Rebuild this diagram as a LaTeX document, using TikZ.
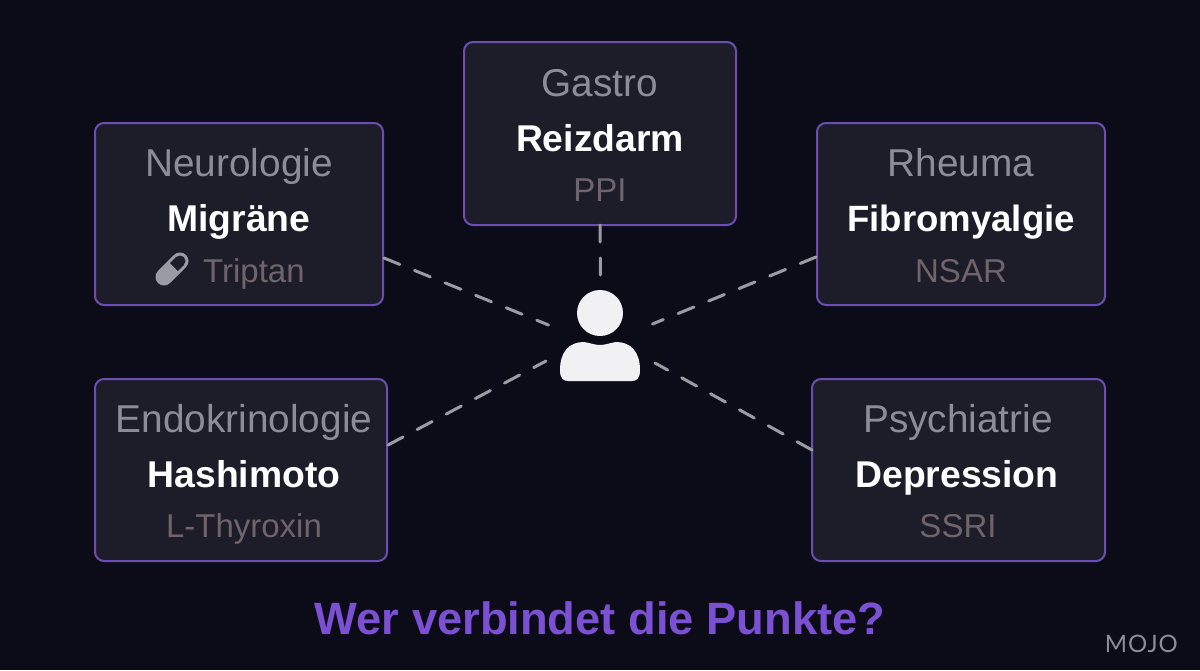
\documentclass[tikz,border=0pt]{standalone}
\usepackage{fontspec}
\setmainfont{Liberation Sans}
\newfontfamily\mojofont[LetterSpace=4]{Lato}
\definecolor{bgc}{HTML}{0B0C18}
\definecolor{boxc}{HTML}{1C1D29}
\definecolor{edgec}{HTML}{6A4FB0}
\definecolor{catc}{HTML}{8C8D97}
\definecolor{medc}{HTML}{70646A}
\definecolor{dashc}{HTML}{9A9BA3}
\definecolor{titlec}{HTML}{7C50D2}
\definecolor{personc}{HTML}{F1F1F3}
\definecolor{pillc}{HTML}{9A9CA5}
\tikzset{
  card/.style={draw=edgec,fill=boxc,line width=2pt,rounded corners=9pt,inner sep=0pt,outer sep=0pt},
  cat/.style={anchor=base,text=catc,inner sep=0pt,font=\fontsize{38.8}{44}\selectfont},
  dis/.style={anchor=base,text=white,inner sep=0pt,font=\fontsize{37.3}{44}\selectfont\bfseries},
  med/.style={anchor=base,text=medc,inner sep=0pt,font=\fontsize{33}{40}\selectfont},
  link/.style={draw=dashc,line width=3pt,line cap=round,dash pattern=on 17pt off 16pt},
}
\begin{document}
\begin{tikzpicture}[x=1pt,y=-1pt]
\useasboundingbox (0,0) rectangle (1200,670);
\fill[bgc] (0,0) rectangle (1200,670);
% person anchor
\node[minimum width=109pt,minimum height=104pt,inner sep=0pt,outer sep=0pt] (person) at (600.5,330) {};
% cards
\node[card,minimum width=272pt,minimum height=183pt] (gastro) at (600,133.5) {};
\node[card,minimum width=288pt,minimum height=182pt] (neuro) at (239,214) {};
\node[card,minimum width=288pt,minimum height=182pt] (rheuma) at (961,214) {};
\node[card,minimum width=292pt,minimum height=182pt] (endo) at (241,470) {};
\node[card,minimum width=293pt,minimum height=182pt] (psych) at (958.5,470) {};
% connectors
\draw[link] (gastro.south) -- (person.north);
\draw[link] ([shift={(1,44)}]neuro.east) -- ([shift={(2.5,-5)}]person.west);
\draw[link] ([shift={(-1,43)}]rheuma.west) -- ([shift={(-2.5,-6)}]person.east);
\draw[link] ([shift={(1,-25)}]endo.east) -- ([shift={(0,31)}]person.west);
\draw[link] ([shift={(0,-20)}]psych.west) -- ([shift={(0,33)}]person.east);
% texts
\node[cat] (t1) at (600,96) {Gastro};
\node[dis] (t2) at (600,151) {Reizdarm};
\node[med] (t3) at (600,201) {PPI};
\node[cat] (t4) at (239,176) {Neurologie};
\node[dis] (t5) at (239,231) {Migräne};
\node[med,anchor=base west] (t6) at (203,282) {Triptan};
\node[cat] (t7) at (961,176) {Rheuma};
\node[dis,font=\fontsize{36.6}{44}\selectfont\bfseries] (t8) at (961,231) {Fibromyalgie};
\node[med] (t9) at (961,282) {NSAR};
\node[cat] (t10) at (244,432) {Endokrinologie};
\node[dis] (t11) at (244,487) {Hashimoto};
\node[med] (t12) at (244,537) {L-Thyroxin};
\node[cat] (t13) at (958,432) {Psychiatrie};
\node[dis] (t14) at (957,487) {Depression};
\node[med] (t15) at (958,537) {SSRI};
\node[anchor=base,text=titlec,inner sep=0pt,font=\fontsize{45.3}{50}\selectfont\bfseries] (title) at (600,634) {Wer verbindet die Punkte?};
\node[anchor=base east,text=catc,inner sep=0pt,font=\mojofont\fontsize{24}{28}\selectfont] (mojo) at (1178,652) {MOJO};
% pill
\draw[pillc,line width=17pt,line cap=round] (164,277) -- (180,261);
\draw[boxc,line width=11pt] (174,267) -- (180,261);
\fill[boxc] (180,261) circle[radius=5.5];
% person icon
\fill[personc] (600,313) circle[radius=23];
\fill[personc] (560,370) .. controls (560,352) and (569,342) .. (584,342)
  .. controls (590,343) and (595,345) .. (600,345)
  .. controls (605,345) and (610,343) .. (616,342)
  .. controls (631,342) and (640,352) .. (640,370)
  .. controls (640,378) and (637,381) .. (632,381)
  -- (568,381) .. controls (563,381) and (560,378) .. (560,370) -- cycle;
\end{tikzpicture}
\end{document}
